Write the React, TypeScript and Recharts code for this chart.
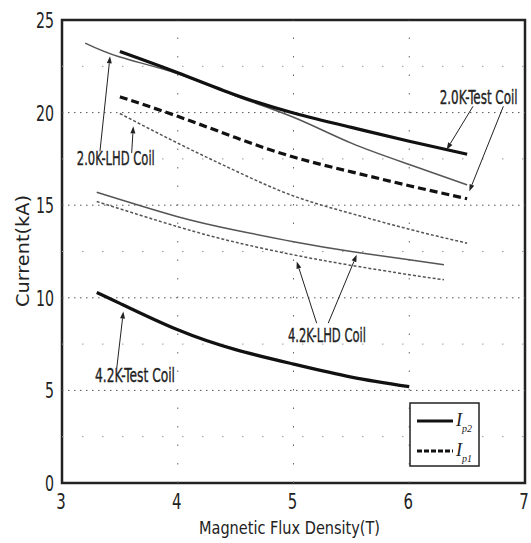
import { LineChart, Line, XAxis, YAxis, ReferenceLine, ReferenceArea, ReferenceDot } from 'recharts';

type Pt = { x: number; y: number };

const xTicks = [3, 4, 5, 6, 7];
const yTicks = [0, 5, 10, 15, 20, 25];
const yMajorGrid = [5, 10, 15, 20];
const yMinorGrid = [2.5, 7.5, 12.5, 17.5, 22.5];
const xMajorGrid = [4, 5, 6];

// 2.0K test coil
const test20Ip2: Pt[] = [
  { x: 3.5, y: 23.3 }, { x: 4.0, y: 22.15 }, { x: 4.5, y: 20.95 }, { x: 5.0, y: 19.98 },
  { x: 5.5, y: 19.2 }, { x: 6.0, y: 18.45 }, { x: 6.5, y: 17.75 },
];
const test20Ip1: Pt[] = [
  { x: 3.5, y: 20.85 }, { x: 4.0, y: 19.8 }, { x: 4.5, y: 18.65 }, { x: 5.0, y: 17.6 },
  { x: 5.5, y: 16.8 }, { x: 6.0, y: 16.05 }, { x: 6.5, y: 15.35 },
];
// 2.0K LHD coil
const lhd20Ip2: Pt[] = [
  { x: 3.2, y: 23.75 }, { x: 3.5, y: 23.0 }, { x: 4.0, y: 22.1 }, { x: 4.5, y: 20.9 },
  { x: 5.0, y: 19.75 }, { x: 5.5, y: 18.35 }, { x: 6.0, y: 17.2 }, { x: 6.5, y: 16.1 },
];
const lhd20Ip1: Pt[] = [
  { x: 3.5, y: 19.95 }, { x: 4.0, y: 18.35 }, { x: 4.5, y: 16.85 }, { x: 5.0, y: 15.5 },
  { x: 5.5, y: 14.55 }, { x: 6.0, y: 13.7 }, { x: 6.5, y: 12.95 },
];
// 4.2K LHD coil
const lhd42Ip2: Pt[] = [
  { x: 3.3, y: 15.7 }, { x: 4.0, y: 14.38 }, { x: 4.5, y: 13.65 }, { x: 5.0, y: 13.03 },
  { x: 5.5, y: 12.5 }, { x: 6.0, y: 12.05 }, { x: 6.3, y: 11.78 },
];
const lhd42Ip1: Pt[] = [
  { x: 3.3, y: 15.2 }, { x: 4.0, y: 13.84 }, { x: 4.5, y: 13.0 }, { x: 5.0, y: 12.32 },
  { x: 5.5, y: 11.75 }, { x: 6.0, y: 11.25 }, { x: 6.3, y: 10.97 },
];
// 4.2K test coil
const test42Ip2: Pt[] = [
  { x: 3.3, y: 10.29 }, { x: 3.5, y: 9.7 }, { x: 4.0, y: 8.27 }, { x: 4.5, y: 7.2 },
  { x: 5.0, y: 6.42 }, { x: 5.5, y: 5.72 }, { x: 6.0, y: 5.2 },
];

const labels = [
  { text: '2.0K-Test Coil', x: 6.6, y: 20.89, len: 78 },
  { text: '2.0K-LHD Coil', x: 3.465, y: 17.55, len: 78 },
  { text: '4.2K-LHD Coil', x: 5.289, y: 8.0, len: 78 },
  { text: '4.2K-Test Coil', x: 3.631, y: 5.84, len: 80 },
];

const arrows: [Pt, Pt][] = [
  [{ x: 6.551, y: 20.34 }, { x: 6.323, y: 18.0 }],
  [{ x: 6.813, y: 20.34 }, { x: 6.519, y: 15.75 }],
  [{ x: 3.328, y: 17.91 }, { x: 3.415, y: 23.04 }],
  [{ x: 3.602, y: 17.82 }, { x: 3.616, y: 19.26 }],
  [{ x: 5.2, y: 8.63 }, { x: 5.028, y: 11.96 }],
  [{ x: 5.3, y: 8.63 }, { x: 5.546, y: 12.32 }],
  [{ x: 3.473, y: 6.2 }, { x: 3.53, y: 9.26 }],
];

const narrow = "'Liberation Sans Narrow', 'DejaVu Sans Condensed', sans-serif";
const sans = "'DejaVu Sans Condensed', 'DejaVu Sans', sans-serif";

const arrowShape = (p: any) => {
  const { x1, y1, x2, y2 } = p;
  const a = Math.atan2(y2 - y1, x2 - x1);
  const L = 7;
  const W = 2.5;
  const bx = x2 - L * Math.cos(a);
  const by = y2 - L * Math.sin(a);
  const pts = `${x2},${y2} ${bx - W * Math.sin(a)},${by + W * Math.cos(a)} ${bx + W * Math.sin(a)},${by - W * Math.cos(a)}`;
  return (
    <g>
      <line x1={x1} y1={y1} x2={bx} y2={by} stroke="#222" strokeWidth={1} />
      <polygon points={pts} fill="#222" />
    </g>
  );
};

const XTick = (p: any) => {
  const s = String(p.payload.value);
  return (
    <text x={p.x - 1} y={p.y + 18} textAnchor="middle" fontFamily={narrow} fontSize={22} textLength={9.5 * s.length} lengthAdjust="spacingAndGlyphs" fill="#222">
      {s}
    </text>
  );
};

const YTick = (p: any) => {
  const s = String(p.payload.value);
  return (
    <text x={p.x} y={p.y + 8} textAnchor="end" fontFamily={narrow} fontSize={22} textLength={9 * s.length} lengthAdjust="spacingAndGlyphs" fill="#222">
      {s}
    </text>
  );
};

function Legend() {
  return (
    <svg width={72} height={66} style={{ position: 'absolute', left: 409, top: 402 }}>
      <rect x={1} y={1} width={69} height={63} fill="#fff" stroke="#222" strokeWidth={1.5} />
      <line x1={8} y1={19} x2={44} y2={19} stroke="#111" strokeWidth={3} />
      <text x={47} y={24} fontFamily="'Liberation Serif', serif" fontStyle="italic" fontSize={18} fill="#222">I</text>
      <text x={53} y={30} fontFamily="'Liberation Serif', serif" fontStyle="italic" fontSize={10} fill="#222">p2</text>
      <line x1={8} y1={49} x2={44} y2={49} stroke="#111" strokeWidth={3} strokeDasharray="5 2" />
      <text x={47} y={54} fontFamily="'Liberation Serif', serif" fontStyle="italic" fontSize={18} fill="#222">I</text>
      <text x={53} y={60} fontFamily="'Liberation Serif', serif" fontStyle="italic" fontSize={10} fill="#222">p1</text>
    </svg>
  );
}

export default function App() {
  return (
    <div style={{ position: 'absolute', left: 0, top: 0, width: 531, height: 543, background: '#fff' }}>
      <LineChart width={531} height={543} margin={{ top: 20, right: 6, bottom: 0, left: 0 }}>
        <XAxis
          type="number"
          dataKey="x"
          domain={[3, 7]}
          ticks={xTicks}
          axisLine={false}
          tickLine={false}
          height={60}
          tick={<XTick />}
          label={{
            content: (props: any) => {
              const vb = props.viewBox;
              return (
                <text x={vb.x + vb.width / 2 - 4} y={vb.y + 51} textAnchor="middle" fontFamily={sans} fontSize={17} textLength={181} lengthAdjust="spacingAndGlyphs" fill="#222">
                  Magnetic Flux Density(T)
                </text>
              );
            },
          }}
        />
        <YAxis
          type="number"
          domain={[0, 25]}
          ticks={yTicks}
          axisLine={false}
          tickLine={false}
          width={62}
          tick={<YTick />}
          label={{
            content: () => (
              <text x={29} y={251} transform="rotate(-90 29 251)" textAnchor="middle" fontFamily={sans} fontSize={17} textLength={112} lengthAdjust="spacingAndGlyphs" fill="#222">
                Current(kA)
              </text>
            ),
          }}
        />
        {yMinorGrid.map(v => (
          <ReferenceLine key={'ym' + v} y={v} stroke="#999" strokeWidth={1} strokeDasharray="1.5 18.5" />
        ))}
        {yMajorGrid.map(v => (
          <ReferenceLine key={'y' + v} y={v} stroke="#555" strokeWidth={1} strokeDasharray="1.5 4.5" />
        ))}
        {xMajorGrid.map(v => (
          <ReferenceLine key={'x' + v} x={v} stroke="#666" strokeWidth={1} strokeDasharray="1.5 17" />
        ))}

        <Line data={lhd20Ip2} dataKey="y" type="natural" stroke="#555" strokeWidth={1.5} dot={false} isAnimationActive={false} />
        <Line data={lhd20Ip1} dataKey="y" type="natural" stroke="#555" strokeWidth={1.5} strokeDasharray="3 2" dot={false} isAnimationActive={false} />
        <Line data={lhd42Ip2} dataKey="y" type="natural" stroke="#555" strokeWidth={1.5} dot={false} isAnimationActive={false} />
        <Line data={lhd42Ip1} dataKey="y" type="natural" stroke="#555" strokeWidth={1.5} strokeDasharray="3 2" dot={false} isAnimationActive={false} />
        <Line data={test20Ip2} dataKey="y" type="natural" stroke="#111" strokeWidth={3.2} dot={false} isAnimationActive={false} />
        <Line data={test20Ip1} dataKey="y" type="natural" stroke="#111" strokeWidth={3.2} strokeDasharray="8 4" dot={false} isAnimationActive={false} />
        <Line data={test42Ip2} dataKey="y" type="natural" stroke="#111" strokeWidth={3.2} dot={false} isAnimationActive={false} />

        {arrows.map((s, i) => (
          <ReferenceLine key={'a' + i} segment={s} ifOverflow="visible" shape={arrowShape} />
        ))}
        {labels.map(l => (
          <ReferenceDot
            key={l.text}
            x={l.x}
            y={l.y}
            r={0}
            ifOverflow="visible"
            shape={(p: any) => (
              <text x={p.cx} y={p.cy + 7.5} textAnchor="middle" fontFamily={narrow} fontSize={20} stroke="#222" strokeWidth={0.35} textLength={l.len} lengthAdjust="spacingAndGlyphs" fill="#222">
                {l.text}
              </text>
            )}
          />
        ))}
        <ReferenceArea x1={3} x2={7} y1={0} y2={25} fill="none" stroke="#222" strokeWidth={2.5} ifOverflow="visible" />
      </LineChart>
      <Legend />
    </div>
  );
}
